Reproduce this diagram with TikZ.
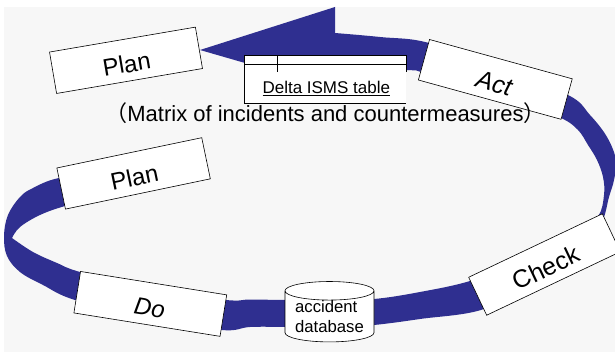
\documentclass[tikz,border=0pt]{standalone}
\usepackage{fontspec}
\setmainfont{Liberation Sans}
\newfontfamily\cjkfont{Noto Sans CJK JP}
\usepackage{tikz}
\usetikzlibrary{shapes.geometric}
\definecolor{ribbon}{RGB}{47,47,144}
\definecolor{paper}{RGB}{247,247,247}
\tikzset{stage/.style={draw,fill=white,line width=0.6pt,minimum width=148pt,minimum height=42pt,inner sep=0pt,text height=25pt,text depth=0pt,font=\fontsize{24}{28}\selectfont},
  db/.style={cylinder,shape border rotate=90,draw,fill=white,line width=0.6pt,minimum width=89pt,minimum height=55pt,aspect=0.27,inner sep=0pt,align=left,font=\fontsize{16.7}{20}\selectfont}}

\begin{document}
\begin{tikzpicture}[x=1pt,y=-1pt]
        \useasboundingbox (0,0) rectangle (615,358);
        \fill[white] (0,0) rectangle (615,358);
        \fill[paper] (4,7) rectangle (615,352);

        % the cycle ribbon, arrow head at the top
        \fill[ribbon] (200,50) -- (335,7) -- (335,33)
          -- plot[smooth,tension=0.6] coordinates {(335,33) (380,37) (429,43) (500,70) (568,95) (590,115) (607,137) (616,160) (614,180) (609,197) (602,222) (585,245) (530,280) (484,309) (420,319) (374,325) (330,328) (285,327) (250,327) (222,330) (150,318) (75,300) (43,285) (20,272) (7,256) (4,236) (8,215) (20,197) (33,188) (59,178) (110,172)}
          -- (110,195)
          -- plot[smooth,tension=0.6] coordinates {(100,197) (65,206) (40,215) (20,227) (12,238)}
          -- plot[smooth,tension=0.6] coordinates {(12,238) (33,252) (57,263) (80,272) (150,290) (226,300) (250,299.5) (285,300) (330,300) (374,299) (420,292) (470,281) (520,262) (575,232) (598,216) (604,195) (603,177) (597,160) (588,145) (578,130) (561,118) (520,103) (461,86) (421,72) (406,70) (330,67) (245,63)}
          -- cycle;

        % delta table
        \node[fill=white,minimum width=162pt,minimum height=47pt,inner sep=0pt] (tbl) at (325,79.5) {};
        \draw[line width=0.6pt] ([yshift=-16pt]tbl.north east) -- (tbl.north east) -- (tbl.north west) -- (tbl.south west) -- (tbl.south east);
        \draw[line width=0.6pt] ([yshift=-9pt]tbl.north west) -- ([yshift=-9pt]tbl.north east);
        \draw[line width=0.6pt] ([xshift=33pt]tbl.north west) -- ([xshift=33pt,yshift=-16pt]tbl.north west);
        \node[anchor=base,inner sep=0pt,font=\fontsize{17}{20}\selectfont] (tbltitle) at (326.3,93.3) {\underline{Delta ISMS table}};

        % PDCA stages
        \node[stage,rotate=9.7] (planA) at (126,60.3) {Plan};
        \node[stage,rotate=-15.4,font=\fontsize{25}{28}\itshape] (act) at (495.3,79.4) {Act};
        \node[stage,rotate=11.8] (planB) at (133.6,173.4) {Plan};
        \node[stage,rotate=-9.1,font=\fontsize{24}{28}\itshape] (do) at (150.3,303.9) {Do};
        \node[stage,rotate=25.4,font=\fontsize{25}{28}\selectfont] (check) at (544.5,264.5) {Check};

        \node[db] (accdb) at (329.5,316.5) {accident\\database};

        % caption under the table, on top of the Act box
        \node[anchor=base,inner sep=0pt,font=\fontsize{22}{26}\selectfont] (note) at (325.5,122) {{\cjkfont （}Matrix of incidents and countermeasures{\cjkfont ）}};
    \end{tikzpicture}
\end{document}
